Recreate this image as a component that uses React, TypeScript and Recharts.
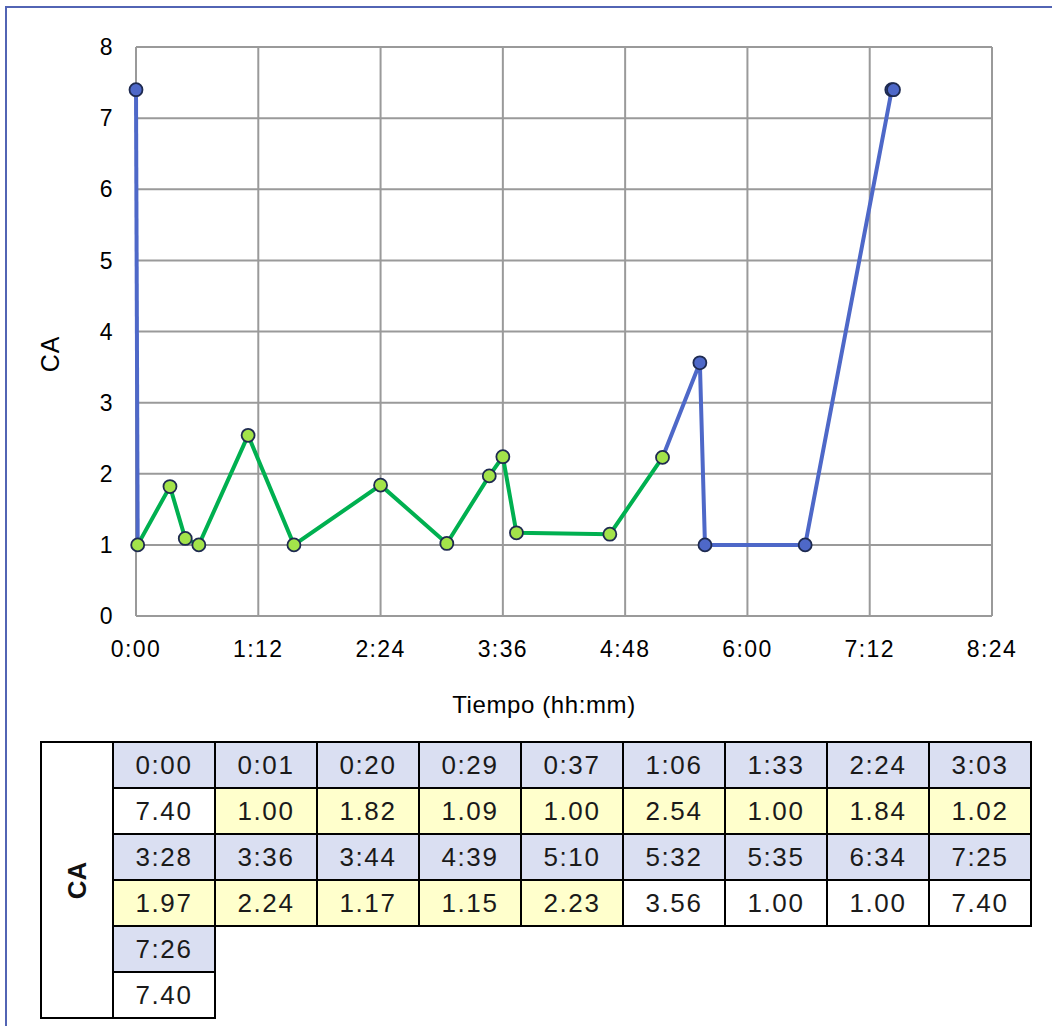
import React from "react";
import { CartesianGrid, Line, LineChart, XAxis, YAxis } from "recharts";

// lecturas CA vs tiempo
const times = ["0:00", "0:01", "0:20", "0:29", "0:37", "1:06", "1:33", "2:24", "3:03", "3:28", "3:36", "3:44", "4:39", "5:10", "5:32", "5:35", "6:34", "7:25", "7:26"];
const caValues = [7.4, 1.0, 1.82, 1.09, 1.0, 2.54, 1.0, 1.84, 1.02, 1.97, 2.24, 1.17, 1.15, 2.23, 3.56, 1.0, 1.0, 7.4, 7.4];
// marker / table colour group for each reading
const markerKind = ["blue", "green", "green", "green", "green", "green", "green", "green", "green", "green", "green", "green", "green", "green", "blue", "blue", "blue", "blue", "blue"];
// index ranges of each line segment
const blueStartRange = [0, 1];
const greenRange = [1, 13];
const blueEndRange = [13, 18];

const xTicks = [0, 72, 144, 216, 288, 360, 432, 504];
const xTickLabels = ["0:00", "1:12", "2:24", "3:36", "4:48", "6:00", "7:12", "8:24"];
const yTicks = [0, 1, 2, 3, 4, 5, 6, 7, 8];

const toMin = (s: string) => {
  const [h, m] = s.split(":").map(Number);
  return h * 60 + m;
};
const inRange = (i: number, r: number[]) => i >= r[0] && i <= r[1];

const data = times.map((t, i) => ({
  t: toMin(t),
  kind: markerKind[i],
  blueA: inRange(i, blueStartRange) ? caValues[i] : null,
  green: inRange(i, greenRange) ? caValues[i] : null,
  blueB: inRange(i, blueEndRange) ? caValues[i] : null,
}));

const BLUE = "#4e68c8";
const GREEN = "#00b050";
const GREEN_DOT = "#a3e34a";
const DOT_STROKE = "#1e2a50";
const FONT = "'Liberation Sans', Arial, sans-serif";

const makeDot = (kind: string, fill: string) => (p: any) => {
  const { cx, cy, index, payload } = p;
  if (cx == null || cy == null || payload?.kind !== kind) return <g key={`e-${kind}-${index}`} />;
  return <circle key={`d-${kind}-${index}`} cx={cx} cy={cy} r={6.5} fill={fill} stroke={DOT_STROKE} strokeWidth={1.8} />;
};

const tickStyle = { fontSize: 23, fill: "#000", fontFamily: FONT, letterSpacing: 1.4 };

const cellBase: React.CSSProperties = {
  border: "2px solid #000",
  height: 44,
  width: 100,
  textAlign: "center",
  padding: 0,
  fontSize: 26,
  color: "#1a1a1a",
  letterSpacing: 1.6,
};

function DataTable() {
  const perRow = 9;
  const groups: number[][] = [];
  for (let i = 0; i < times.length; i += perRow) {
    groups.push(times.slice(i, i + perRow).map((_, k) => i + k));
  }
  return (
    <table
      style={{
        position: "absolute",
        left: 40,
        top: 741,
        borderCollapse: "collapse",
        fontFamily: FONT,
      }}
    >
      <tbody>
        {groups.map((g, gi) => (
          <React.Fragment key={gi}>
            <tr>
              {gi === 0 && (
                <td
                  rowSpan={groups.length * 2}
                  style={{ border: "2px solid #000", width: 70, padding: 0 }}
                >
                  <div
                    style={{
                      transform: "rotate(-90deg)",
                      fontWeight: "bold",
                      fontSize: 26,
                      textAlign: "center",
                      color: "#111",
                    }}
                  >
                    CA
                  </div>
                </td>
              )}
              {g.map((i) => (
                <td key={i} style={{ ...cellBase, background: "#dadff2" }}>
                  {times[i]}
                </td>
              ))}
            </tr>
            <tr>
              {g.map((i) => (
                <td key={i} style={{ ...cellBase, background: markerKind[i] === "green" ? "#ffffcc" : "#ffffff" }}>
                  {caValues[i].toFixed(2)}
                </td>
              ))}
            </tr>
          </React.Fragment>
        ))}
      </tbody>
    </table>
  );
}

export default function App() {
  return (
    <div style={{ position: "absolute", left: 0, top: 0, width: 1052, height: 1026, background: "#fff", overflow: "hidden" }}>
      <div
        style={{
          position: "absolute",
          left: 5,
          top: 6,
          width: 1100,
          height: 1100,
          borderLeft: "2px solid #5264b4",
          borderTop: "2px solid #5264b4",
        }}
      />
      <div style={{ position: "absolute", left: 0, top: 0 }}>
        <LineChart width={1052} height={730} data={data} margin={{ top: 47, right: 60, bottom: 84, left: 76 }}>
          <CartesianGrid stroke="#9a9a9a" strokeWidth={2} />
          <XAxis
            dataKey="t"
            type="number"
            domain={[0, 504]}
            ticks={xTicks}
            tickFormatter={(v: number) => xTickLabels[xTicks.indexOf(v)]}
            axisLine={false}
            tickLine={false}
            tickSize={0}
            tickMargin={25}
            height={30}
            tick={tickStyle}
            interval={0}
          />
          <YAxis
            type="number"
            domain={[0, 8]}
            ticks={yTicks}
            axisLine={false}
            tickLine={false}
            tickSize={0}
            tickMargin={22}
            width={60}
            tick={tickStyle}
            interval={0}
          />
          <Line dataKey="blueA" stroke={BLUE} strokeWidth={4} dot={makeDot("blue", BLUE)} activeDot={false} isAnimationActive={false} connectNulls={false} />
          <Line dataKey="blueB" stroke={BLUE} strokeWidth={4} dot={makeDot("blue", BLUE)} activeDot={false} isAnimationActive={false} connectNulls={false} />
          <Line dataKey="green" stroke={GREEN} strokeWidth={4} dot={makeDot("green", GREEN_DOT)} activeDot={false} isAnimationActive={false} connectNulls={false} />
        </LineChart>
      </div>
      <div
        style={{
          position: "absolute",
          left: 50,
          top: 354,
          transform: "translate(-50%, -50%) rotate(-90deg)",
          fontFamily: FONT,
          fontSize: 25,
          letterSpacing: 1,
          whiteSpace: "nowrap",
        }}
      >
        CA
      </div>
      <div
        style={{
          position: "absolute",
          left: 544,
          top: 705,
          transform: "translate(-50%, -50%)",
          fontFamily: FONT,
          fontSize: 24,
          letterSpacing: 0.6,
          whiteSpace: "nowrap",
        }}
      >
        Tiempo (hh:mm)
      </div>
      <DataTable />
    </div>
  );
}
